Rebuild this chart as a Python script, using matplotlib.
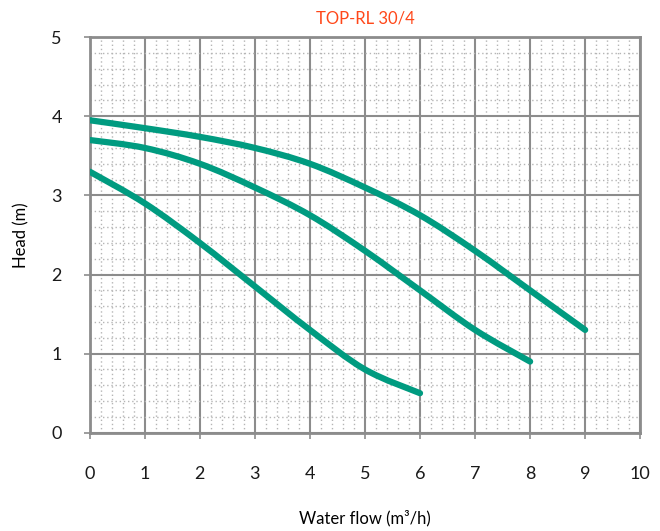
import matplotlib
matplotlib.use("Agg")
from matplotlib import pyplot as plt
from matplotlib.ticker import MultipleLocator
from matplotlib.path import Path
from matplotlib.patches import PathPatch
import numpy as np

plt.rcParams["font.family"] = ["Lato", "DejaVu Sans"]

# pump curves (flow in m3/h, head in m)
flow_a = [0, 1, 2, 3, 4, 5, 6, 7, 8, 9]
head_a = [3.95, 3.85, 3.74, 3.6, 3.4, 3.1, 2.75, 2.3, 1.8, 1.3]
flow_b = [0, 1, 2, 3, 4, 5, 6, 7, 8]
head_b = [3.7, 3.6, 3.4, 3.1, 2.75, 2.3, 1.8, 1.3, 0.9]
flow_c = [0, 1, 2, 3, 4, 5, 6]
head_c = [3.3, 2.9, 2.4, 1.85, 1.3, 0.8, 0.5]

curve_color = "#009B80"
grid_color = "#8c8c8c"


def smooth_path(xs, ys):
    # spreadsheet-style smoothed line: bezier segments through every point
    p = np.column_stack([xs, ys]).astype(float)
    verts = [p[0]]
    codes = [Path.MOVETO]
    n = len(p)
    for i in range(n - 1):
        p0 = p[i - 1] if i > 0 else p[i]
        p3 = p[i + 2] if i + 2 < n else p[i + 1]
        c1 = p[i] + (p[i + 1] - p0) / 6.0
        c2 = p[i + 1] - (p3 - p[i]) / 6.0
        verts += [c1, c2, p[i + 1]]
        codes += [Path.CURVE4] * 3
    return Path(verts, codes)


fig = plt.figure(figsize=(6.6, 5.31), dpi=100)
ax = fig.add_axes([0.136, 0.185, 0.834, 0.745])

for fx, hy in [(flow_a, head_a), (flow_b, head_b), (flow_c, head_c)]:
    patch = PathPatch(smooth_path(fx, hy), facecolor="none", edgecolor=curve_color,
                      lw=4.5, capstyle="round", joinstyle="round", zorder=3)
    ax.add_patch(patch)

ax.set_xlim(0, 10)
ax.set_ylim(0, 5)
ax.xaxis.set_major_locator(MultipleLocator(1))
ax.yaxis.set_major_locator(MultipleLocator(1))
ax.xaxis.set_minor_locator(MultipleLocator(0.2))
ax.yaxis.set_minor_locator(MultipleLocator(0.2))
ax.grid(which="major", color=grid_color, lw=1.5)
ax.grid(which="minor", color="#b5b5b5", lw=1, linestyle=(0, (1, 2)))
ax.tick_params(which="minor", length=0)
ax.tick_params(which="major", length=4, width=1.2, color=grid_color,
               labelsize=13, colors="#1a1a1a")
ax.tick_params(axis="x", pad=20)
ax.tick_params(axis="y", pad=16)
for sp in ax.spines.values():
    sp.set_color(grid_color)
    sp.set_linewidth(2)

ax.set_xlabel("Water flow (m³/h)", fontsize=12, labelpad=20)
ax.set_ylabel("Head (m)", fontsize=12, labelpad=16)
ax.set_title("TOP-RL 30/4", color="#ff4719", fontsize=12, pad=10)

fig.savefig("out.png", dpi=100)
